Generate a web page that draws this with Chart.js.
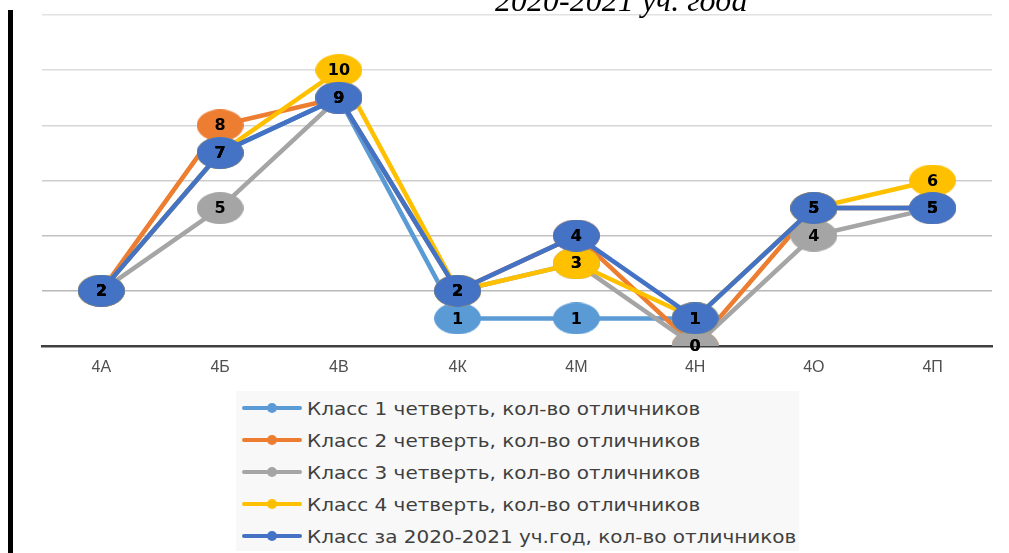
<!DOCTYPE html>
<html>
<head>
<meta charset="utf-8">
<script src="https://cdn.jsdelivr.net/npm/chart.js@4"></script>
<style>
  html, body { margin:0; padding:0; background:#fff; }
  body { width:1009px; height:553px; position:relative; overflow:hidden; }
  #wrap { position:absolute; left:0; top:0; width:1009px; height:553px; }
  #bar { position:absolute; left:8px; top:10px; width:5px; height:560px; background:#000; }
  #title { position:absolute; left:495px; top:-16px; font:italic 32px "Liberation Serif", serif; color:#000; white-space:nowrap; line-height:1; }
  #legend { position:absolute; left:236px; top:391px; width:563px; height:160px; background:#f8f8f8; }
  .row { position:absolute; left:6px; height:20px; display:flex; align-items:center; }
  .mk { position:relative; width:60px; height:20px; flex:none; }
  .mk .ln { position:absolute; left:0; top:8px; width:60px; height:4px; border-radius:2px; }
  .mk .dt { position:absolute; left:25px; top:5px; width:10px; height:10px; border-radius:50%; }
  .tx { margin-left:5px; font:18px "DejaVu Sans", sans-serif; color:#404040; white-space:nowrap; transform-origin:left center; transform:scaleX(1.11); }
</style>
</head>
<body>
<div id="wrap"><canvas id="chart" width="1009" height="553"></canvas></div>
<div id="bar"></div>
<div id="title">2020-2021 уч. года</div>
<div id="legend"></div>
<script>
// data
const classes = ['4А','4Б','4В','4К','4М','4Н','4О','4П'];
const q1 = [2, 7, 9, 1, 1, 1, 5, 5];
const q2 = [2, 8, 9, 2, 4, 0, 5, 5];
const q3 = [2, 5, 9, 2, 3, 0, 4, 5];
const q4 = [2, 7, 10, 2, 3, 1, 5, 6];
const year = [2, 7, 9, 2, 4, 1, 5, 5];
const seriesNames = [
  'Класс 1 четверть, кол-во отличников',
  'Класс 2 четверть, кол-во отличников',
  'Класс 3 четверть, кол-во отличников',
  'Класс 4 четверть, кол-во отличников',
  'Класс за 2020-2021 уч.год, кол-во отличников'
];
const colors = ['#5b9bd5', '#ed7d31', '#a5a5a5', '#ffc000', '#4472c4'];
const yTicks = [0, 2, 4, 6, 8, 10, 12];

// ellipse marker, the picture is stretched so circles look wide
const ellipse = color => {
  const c = document.createElement('canvas');
  c.width = 47; c.height = 32;
  const g = c.getContext('2d');
  g.fillStyle = color;
  g.beginPath();
  g.ellipse(23.5, 16, 23.5, 16, 0, 0, Math.PI*2);
  g.fill();
  return c;
};

const allSeries = [q1, q2, q3, q4, year];
const datasets = allSeries.map((d, i) => ({
  label: seriesNames[i],
  data: d,
  borderColor: colors[i],
  backgroundColor: colors[i],
  borderWidth: 4.5,
  pointStyle: ellipse(colors[i]),
  pointRadius: 16,
  pointHoverRadius: 16,
  tension: 0,
  order: allSeries.length - 1 - i   // last series on top, like Excel
}));

// numbers inside the markers
const valueLabels = {
  id: 'valueLabels',
  afterDatasetsDraw(chart){
    const ctx = chart.ctx;
    ctx.save();
    ctx.font = 'bold 16px "DejaVu Sans", sans-serif';
    ctx.fillStyle = '#000';
    ctx.textAlign = 'center';
    ctx.textBaseline = 'middle';
    chart.data.datasets.forEach((ds, i) => {
      chart.getDatasetMeta(i).data.forEach((pt, j) => {
        ctx.fillText(String(ds.data[j]), pt.x, pt.y + 1);
      });
    });
    ctx.restore();
  }
};

// gridlines get a bit darker towards the bottom
const gridShade = c => {
  const v = c.tick ? c.tick.value : 0;
  return ['#b4b4b4','#b8b8b8','#c2c2c2','#cdcdcd','#d6d6d6','#dcdcdc','#e2e2e2'][v/2] || '#d4d4d4';
};

new Chart(document.getElementById('chart'), {
  type: 'line',
  data: { labels: classes, datasets },
  options: {
    responsive: false,
    animation: false,
    events: [],
    layout: { autoPadding: false, padding: { left: 42, right: 17, top: 15, bottom: 0 } },
    plugins: { legend: { display: false }, tooltip: { enabled: false } },
    scales: {
      x: {
        offset: true,
        grid: { display: false, drawTicks: false },
        border: { display: true, color: '#404040', width: 2.5 },
        ticks: { color: '#505050', font: { family: '"Liberation Sans", Arial, sans-serif', size: 16 }, padding: 12 },
        afterFit(s){ s.height = 207; }
      },
      y: {
        min: yTicks[0], max: yTicks[yTicks.length-1],
        afterBuildTicks(s){ s.ticks = yTicks.map(v => ({ value: v })); },
        ticks: { display: false },
        grid: { color: gridShade, lineWidth: 1.5, drawTicks: false },
        border: { display: false },
        afterFit(s){ s.width = 0; }
      }
    }
  },
  plugins: [valueLabels]
});

// legend box
const lg = document.getElementById('legend');
seriesNames.forEach((name, i) => {
  const row = document.createElement('div');
  row.className = 'row';
  row.style.top = (7 + i*32) + 'px';
  row.innerHTML = `<div class="mk"><div class="ln" style="background:${colors[i]}"></div><div class="dt" style="background:${colors[i]}"></div></div><span class="tx">${name}</span>`;
  lg.appendChild(row);
});
</script>
</body>
</html>
